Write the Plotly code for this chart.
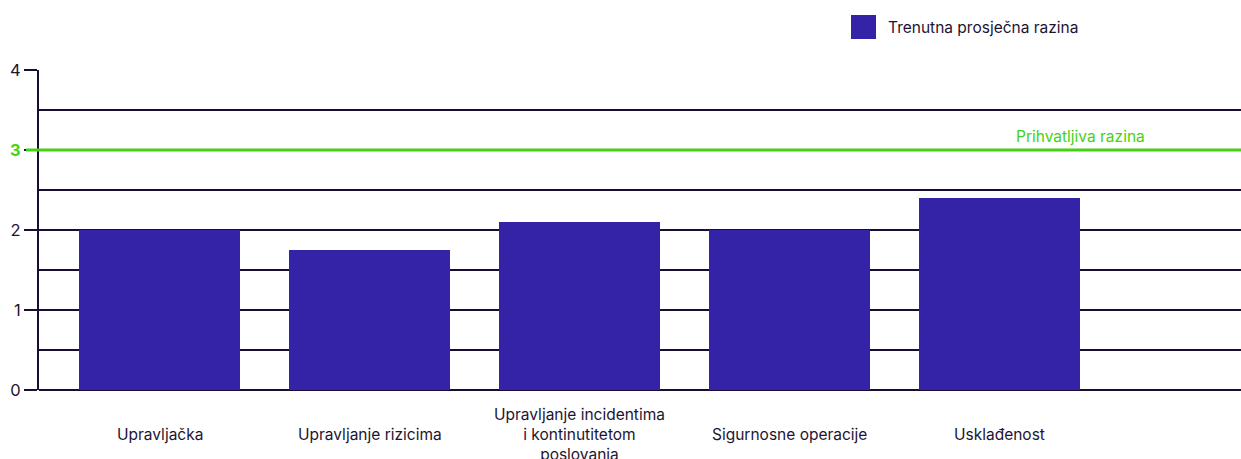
import plotly.graph_objects as go

# Domain scores (maturity level 0-4)
categories = [
    "Upravljačka",
    "Upravljanje rizicima",
    "Upravljanje incidentima<br>i kontinutitetom<br>poslovanja",
    "Sigurnosne operacije",
    "Usklađenost",
]
current_level = [2.0, 1.75, 2.1, 2.0, 2.4]
series_name = "Trenutna prosječna razina"
acceptable_level = 3
acceptable_label = "Prihvatljiva razina"
y_ticks = [0, 1, 2, 3, 4]

BAR = "#3423A6"
GRID = "#1a0c33"
GREEN = "#44D313"
TEXT = "#1e1432"
FONT = "Inter"
FS = 15.5

positions = list(range(len(categories)))

fig = go.Figure()
fig.add_trace(go.Bar(
    x=positions,
    y=current_level,
    width=0.767,
    marker=dict(color=BAR, line=dict(width=0)),
    name=series_name,
    showlegend=False,
))

tick_text = [
    f"<b><span style='color:{GREEN}'>{v}</span></b>" if v == acceptable_level else str(v)
    for v in y_ticks
]

fig.update_layout(
    width=1241,
    height=459,
    margin=dict(l=39, r=0, t=70, b=69),
    paper_bgcolor="white",
    plot_bgcolor="white",
    font=dict(family=FONT, size=FS, color=TEXT),
    bargap=0,
    xaxis=dict(
        range=[-0.574, 5.15],
        showgrid=False,
        zeroline=False,
        showticklabels=False,
        showline=False,
        fixedrange=True,
    ),
    yaxis=dict(
        range=[0, 4],
        tickvals=y_ticks,
        ticktext=tick_text,
        ticks="outside",
        ticklen=13,
        tickwidth=2,
        tickcolor=GRID,
        showgrid=True,
        gridcolor=GRID,
        gridwidth=2,
        zeroline=True,
        zerolinecolor=GRID,
        zerolinewidth=2,
        showline=True,
        linecolor=GRID,
        linewidth=2,
        tickfont=dict(size=16.5, color=TEXT),
        minor=dict(
            tickvals=[0.5, 1.5, 2.5, 3.5],
            showgrid=True,
            gridcolor=GRID,
            gridwidth=2,
            ticks="",
        ),
    ),
)

# Acceptable level reference line (with its tick)
fig.add_shape(
    type="line", xref="paper", yref="y",
    x0=-13 / 1202, x1=1, y0=acceptable_level, y1=acceptable_level,
    line=dict(color=GREEN, width=3), layer="above",
)
fig.add_annotation(
    xref="paper", yref="y", x=(1014 - 39) / 1202, y=acceptable_level,
    xanchor="left", yanchor="bottom", yshift=2,
    text=acceptable_label, showarrow=False,
    font=dict(family=FONT, size=FS, color=GREEN),
)

# Category labels centred beneath each bar
for pos, label in zip(positions, categories):
    fig.add_annotation(
        xref="x", yref="paper", x=pos, y=0, yshift=-44,
        xanchor="center", yanchor="middle",
        text=label, showarrow=False, align="center",
        font=dict(family=FONT, size=FS, color=TEXT),
    )

# Legend swatch and label
fig.add_shape(
    type="rect", xref="paper", yref="paper",
    x0=(851 - 39) / 1202, x1=(876 - 39) / 1202,
    y0=(389 - 14) / 320, y1=(389 - 38) / 320,
    fillcolor=BAR, line=dict(width=0),
)
fig.add_annotation(
    xref="paper", yref="paper", x=(886 - 39) / 1202, y=(389 - 26) / 320,
    xanchor="left", yanchor="middle",
    text=series_name, showarrow=False,
    font=dict(family=FONT, size=FS, color=TEXT),
)

fig.write_html("out.html")
